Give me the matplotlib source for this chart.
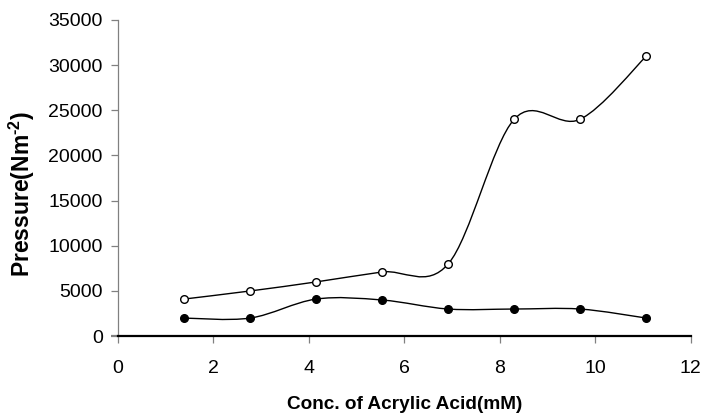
import numpy as np
import matplotlib.pyplot as plt
from matplotlib.path import Path
from matplotlib.patches import PathPatch

plt.rcParams['font.family'] = ['Liberation Sans', 'DejaVu Sans']
plt.rcParams['mathtext.fontset'] = 'custom'
plt.rcParams['mathtext.rm'] = 'Liberation Sans:bold'
plt.rcParams['mathtext.bf'] = 'Liberation Sans:bold'

# Data
conc = [1.38, 2.77, 4.15, 5.53, 6.92, 8.30, 9.68, 11.07]
pressure_open = [4100, 5000, 6000, 7100, 8000, 24000, 24000, 31000]
pressure_filled = [2000, 2000, 4100, 4000, 3000, 3000, 3000, 2000]

x_ticks = [0, 2, 4, 6, 8, 10, 12]
y_ticks = [0, 5000, 10000, 15000, 20000, 25000, 30000, 35000]


def smooth_path(x, y):
    # Excel-style smoothed line: cubic Bezier with Catmull-Rom control points
    p = np.column_stack([x, y]).astype(float)
    n = len(p)
    verts = [p[0]]
    codes = [Path.MOVETO]
    for i in range(n - 1):
        p0 = p[i - 1] if i > 0 else p[i]
        p1 = p[i]
        p2 = p[i + 1]
        p3 = p[i + 2] if i + 2 < n else p[i + 1]
        c1 = p1 + (p2 - p0) / 6.0
        c2 = p2 - (p3 - p1) / 6.0
        verts += [c1, c2, p2]
        codes += [Path.CURVE4] * 3
    return Path(verts, codes)


fig = plt.figure(figsize=(7.02, 4.16), dpi=100)
ax = fig.add_axes([0.168, 0.192, 0.816, 0.76])

for ys, face in [(pressure_open, 'white'), (pressure_filled, 'black')]:
    ax.add_patch(PathPatch(smooth_path(conc, ys), fill=False,
                           edgecolor='black', lw=1.0, zorder=2))
    ax.plot(conc, ys, ls='none', marker='o', ms=5.5, mfc=face,
            mec='black', mew=1.0, zorder=3)

ax.set_xlim(0, 12)
ax.set_ylim(0, 35000)
ax.set_xticks(x_ticks)
ax.set_yticks(y_ticks)

for s in ['top', 'right']:
    ax.spines[s].set_visible(False)
ax.spines['left'].set_color('#808080')
ax.spines['left'].set_linewidth(0.9)
ax.spines['bottom'].set_color('black')
ax.spines['bottom'].set_linewidth(1.6)

ax.tick_params(axis='both', direction='out', length=5, width=0.9,
               color='#808080', labelsize=14)
ax.tick_params(axis='x', pad=12)
ax.tick_params(axis='y', pad=6)
# the zero tick continues the black x axis line
ax.yaxis.get_major_ticks()[0].tick1line.set_color('black')
ax.yaxis.get_major_ticks()[0].tick1line.set_markeredgewidth(1.6)

ax.set_xlabel('Conc. of Acrylic Acid(mM)', fontsize=13.7, fontweight='bold',
              labelpad=14)
ax.set_ylabel(r'Pressure(Nm$^{\text{-2}}$)', fontsize=16.5,
              fontweight='bold', va='center')
ax.yaxis.set_label_coords(-0.1675, 0.45)

fig.savefig('out.png', dpi=100)
